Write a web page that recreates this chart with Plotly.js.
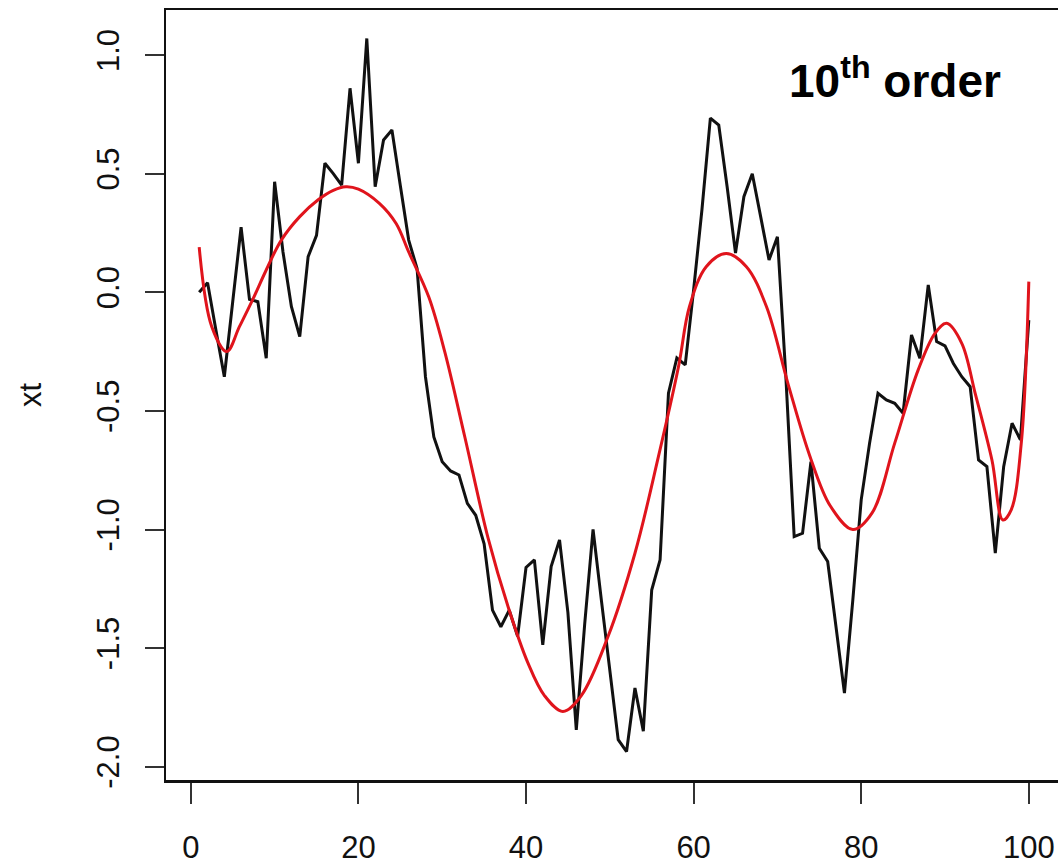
<!DOCTYPE html>
<html>
<head>
<meta charset="utf-8">
<script src="https://cdn.plot.ly/plotly-3.0.1.min.js"></script>
<style>
html, body { margin: 0; padding: 0; overflow: hidden; background: #ffffff; }
#chart { width: 1062px; height: 864px; }
</style>
</head>
<body>
<div id="chart"></div>
<script>
// Observed series xt (t = 1..100)
const timeIndex = Array.from({length: 100}, (_, i) => i + 1);
const xtValues = [
  0.00, 0.04, -0.16, -0.356, -0.04, 0.274, -0.03, -0.04, -0.278, 0.466,
  0.17, -0.06, -0.187, 0.15, 0.24, 0.544, 0.50, 0.452, 0.86, 0.544,
  1.07, 0.445, 0.642, 0.684, 0.45, 0.22, 0.10, -0.356, -0.61, -0.714,
  -0.753, -0.77, -0.89, -0.94, -1.06, -1.34, -1.41, -1.34, -1.45, -1.16,
  -1.128, -1.486, -1.156, -1.044, -1.35, -1.845, -1.40, -1.00, -1.30, -1.59,
  -1.886, -1.936, -1.668, -1.85, -1.255, -1.128, -0.425, -0.277, -0.306, 0.01,
  0.35, 0.734, 0.705, 0.445, 0.165, 0.403, 0.50, 0.319, 0.136, 0.234,
  -0.35, -1.03, -1.016, -0.714, -1.079, -1.135, -1.41, -1.69, -1.297, -0.875,
  -0.636, -0.426, -0.454, -0.468, -0.51, -0.18, -0.278, 0.031, -0.208, -0.226,
  -0.30, -0.356, -0.398, -0.707, -0.735, -1.10, -0.735, -0.552, -0.622, -0.117
];

// 10th order polynomial fit
const fitX = [1, 2.5, 4.3, 5.8, 7.4, 9, 10.8, 13, 15.2, 17, 18.5, 20, 22.5, 24.5, 26, 28.4, 30.3, 32.7, 35.5,
  37.9, 40.2, 42.2, 44.4, 46.6, 49.8, 53, 55.8, 58.2, 59.5, 61.5, 63.9, 66.3, 68.7, 71.3, 73.9, 76.3, 79, 81.3, 84,
  86.8, 88.8, 90.2, 92, 93.6, 95.6, 96.9, 97.9, 99.1, 100];
const fitY = [0.19, -0.145, -0.25, -0.145, -0.03, 0.094, 0.22, 0.319, 0.39, 0.43, 0.445, 0.435, 0.375, 0.29, 0.17, -0.02, -0.25, -0.61, -1.04,
  -1.33, -1.56, -1.70, -1.767, -1.70, -1.45, -1.10, -0.693, -0.313, -0.061, 0.108, 0.164, 0.108, -0.061, -0.39, -0.693, -0.90, -1.0, -0.93, -0.636,
  -0.327, -0.173, -0.131, -0.215, -0.426, -0.707, -0.96, -0.917, -0.636, 0.045];

const xTicks = [0, 20, 40, 60, 80, 100];
const yTicks = [-2.0, -1.5, -1.0, -0.5, 0.0, 0.5, 1.0];
const yTickText = ['-2.0', '-1.5', '-1.0', '-0.5', '0.0', '0.5', '1.0'];

const font = 'Liberation Sans, Arial, Helvetica, sans-serif';

const traces = [
  {
    x: timeIndex, y: xtValues, type: 'scatter', mode: 'lines',
    line: {color: '#111111', width: 3},
    hoverinfo: 'skip'
  },
  {
    x: fitX, y: fitY, type: 'scatter', mode: 'lines',
    line: {color: '#e0141c', width: 3, shape: 'spline', smoothing: 1.0},
    hoverinfo: 'skip'
  }
];

const layout = {
  width: 1062, height: 864,
  margin: {l: 166, r: 0, t: 10, b: 84, pad: 0},
  paper_bgcolor: '#ffffff', plot_bgcolor: '#ffffff',
  showlegend: false,
  font: {family: font, size: 31, color: '#111111'},
  xaxis: {
    range: [-2.96, 103.96], tickvals: xTicks, ticktext: xTicks.map(String),
    ticks: 'outside', ticklen: 21, tickwidth: 2, tickcolor: '#333333',
    showline: true, mirror: true, linecolor: '#111111', linewidth: 2.5,
    showgrid: false, zeroline: false,
    tickfont: {family: font, size: 31, color: '#111111'},
    ticklabelstandoff: 17
  },
  yaxis: {
    range: [-2.056, 1.19], tickvals: yTicks, ticktext: yTickText,
    ticks: 'outside', ticklen: 19, tickwidth: 2, tickcolor: '#333333',
    showline: true, mirror: true, linecolor: '#111111', linewidth: 2.5,
    showgrid: false, zeroline: false, tickangle: -90,
    tickfont: {family: font, size: 31, color: '#111111'},
    ticklabelstandoff: 13,
    title: {text: 'xt', font: {family: font, size: 31, color: '#111111'}, standoff: 40}
  },
  annotations: [
    {
      xref: 'paper', yref: 'paper', x: 0.693, y: 0.912,
      xanchor: 'left', yanchor: 'middle', showarrow: false,
      text: '<b>10<sup>th</sup> order</b>',
      font: {family: font, size: 46, color: '#000000'}
    }
  ]
};

Plotly.newPlot('chart', traces, layout, {staticPlot: true, displayModeBar: false});
</script>
</body>
</html>
